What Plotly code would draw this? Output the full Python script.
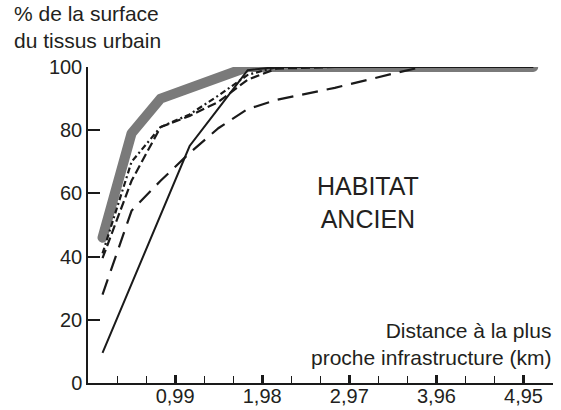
import plotly.graph_objects as go

# Data
distance_km = [0.165, 0.495, 0.825, 1.155, 1.485, 1.815, 2.145, 2.805, 3.465, 3.795, 4.455, 5.06]
serie_grise = [46, 79, 90, 93.6, 96.8, 100, 100, 100, 100, 100, 100, 100]
serie_pleine = [9.5, 31.5, 53, 75, 87, 99, 100, 100, 100, 100, 100, 100]
serie_tirets_longs = [28, 54.5, 64, 72.8, 80.7, 86.7, 89.6, 93.4, 97.9, 100, 100, 100]
serie_tirets = [39.5, 64, 81, 84.5, 89, 96, 99.5, 100, 100, 100, 100, 100]
serie_mixte = [41, 70, 81, 85, 91, 97.5, 100, 100, 100, 100, 100, 100]

x_tickvals = [0.99, 1.98, 2.97, 3.96, 4.95]
x_ticktext = ["0,99", "1,98", "2,97", "3,96", "4,95"]
y_tickvals = [0, 20, 40, 60, 80, 100]

TXT = "#231f20"
INK = "#1a1a1a"
FONT = "Liberation Sans, Arial, sans-serif"

fig = go.Figure()
fig.add_trace(go.Scatter(x=distance_km, y=serie_grise, mode="lines",
                         line=dict(color="#7a7a7a", width=10), showlegend=False))
fig.add_trace(go.Scatter(x=distance_km, y=serie_pleine, mode="lines",
                         line=dict(color=INK, width=2), showlegend=False))
fig.add_trace(go.Scatter(x=distance_km, y=serie_tirets_longs, mode="lines",
                         line=dict(color=INK, width=2.2, dash="16px,9px"), showlegend=False))
fig.add_trace(go.Scatter(x=distance_km, y=serie_tirets, mode="lines",
                         line=dict(color=INK, width=2.2, dash="9px,4px"), showlegend=False))
fig.add_trace(go.Scatter(x=distance_km, y=serie_mixte, mode="lines",
                         line=dict(color=INK, width=2.2, dash="6px,3px,2px,3px"), showlegend=False))

fig.update_layout(
    width=561, height=410,
    margin=dict(l=88, r=8, t=67, b=27, autoexpand=False),
    paper_bgcolor="white", plot_bgcolor="white",
    font=dict(family=FONT, size=20, color=TXT),
    xaxis=dict(range=[0, 5.285], showgrid=False, zeroline=False, automargin=False,
               showline=True, linecolor=INK, linewidth=1.5,
               tickvals=x_tickvals, ticktext=x_ticktext,
               ticks="inside", ticklen=8, tickwidth=2.5, tickcolor=INK,
               ticklabelstandoff=-6,
               minor=dict(tick0=0, dtick=0.33, ticks="inside", ticklen=7,
                          tickwidth=1.2, tickcolor=INK, showgrid=False),
               tickfont=dict(size=20, color=TXT)),
    yaxis=dict(range=[0, 100], showgrid=False, zeroline=False, automargin=False,
               showline=True, linecolor=INK, linewidth=1.5,
               tickvals=y_tickvals, ticks="inside", ticklen=12, tickwidth=1.5,
               tickcolor=INK, tickfont=dict(size=20, color=TXT)),
    annotations=[
        dict(text="% de la surface<br>du tissus urbain", xref="paper", yref="paper",
             x=-0.163, y=1.127, xanchor="left", yanchor="middle", align="left",
             showarrow=False, font=dict(size=21, color=TXT)),
        dict(text="Distance à la plus<br>proche infrastructure (km)", xref="paper", yref="paper",
             x=1.0, y=0.123, xanchor="right", yanchor="middle", align="right",
             showarrow=False, font=dict(size=21, color=TXT)),
        dict(text="HABITAT<br>ANCIEN", xref="paper", yref="paper",
             x=0.602, y=0.570, xanchor="center", yanchor="middle", align="center",
             showarrow=False, font=dict(size=25, color=TXT)),
    ],
)

post = (
    "document.body.style.margin='0';"
    "var tr=document.querySelectorAll('.scatterlayer .trace');"
    "if(tr.length){var p=tr[0].querySelector('path.js-line');"
    "if(p){p.style.strokeLinecap='round';p.style.strokeLinejoin='round';}}"
)

fig.write_html("out.html", config={"displayModeBar": False}, post_script=post)
